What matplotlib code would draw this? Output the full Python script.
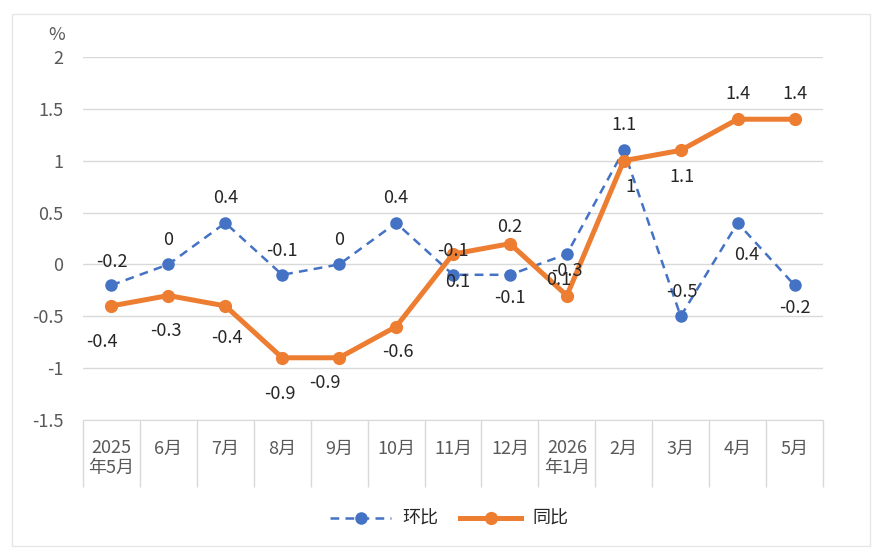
import numpy as np
import matplotlib
matplotlib.use("Agg")
import matplotlib.pyplot as plt
from matplotlib.patches import Rectangle
from matplotlib.lines import Line2D

plt.rcParams['font.family'] = ['Noto Sans CJK SC', 'DejaVu Sans']

# data
months = ['2025\n年5月', '6月', '7月', '8月', '9月', '10月', '11月', '12月',
          '2026\n年1月', '2月', '3月', '4月', '5月']
huanbi = [-0.2, 0, 0.4, -0.1, 0, 0.4, -0.1, -0.1, 0.1, 1.1, -0.5, 0.4, -0.2]
tongbi = [-0.4, -0.3, -0.4, -0.9, -0.9, -0.6, 0.1, 0.2, -0.3, 1, 1.1, 1.4, 1.4]
yticks = [-1.5, -1, -0.5, 0, 0.5, 1, 1.5, 2]

# label offsets in pixels (dx, dy up)
hb_off = [(0, 23), (0, 24), (0, 25), (0, 24), (0, 24), (0, 25), (0, 24),
          (0, -23), (-8, -26), (0, 25), (1, 24), (9, -32), (0, -23)]
tb_off = [(-10, -36), (-3, -35), (2, -32), (-2, -36), (-14, -25), (2, -25),
          (5, -28), (0, 17), (0, 25), (7, -26), (1, -27), (0, 25), (0, 25)]

blue = '#4472C4'
orange = '#ED7D31'
grid_c = '#d9d9d9'
tick_c = '#595959'
lab_c = '#262626'
fs = 13

W, H = 877, 549
fig = plt.figure(figsize=(W / 100, H / 100), dpi=100)
ax = fig.add_axes([83 / W, 1 - 420 / H, 740 / W, 363 / H])

x = np.arange(len(months))
ax.plot(x, huanbi, color=blue, lw=1.8, ls=(0, (3.5, 2.5)), marker='o',
        ms=8, mfc=blue, mec=blue, zorder=3, label='环比')
ax.plot(x, tongbi, color=orange, lw=3.6, marker='o', ms=8.5,
        mfc=orange, mec=orange, zorder=4, label='同比', solid_capstyle='round')

for xi, v, (dx, dy) in zip(x, huanbi, hb_off):
    ax.annotate(f'{v:g}', (xi, v), xytext=(dx, dy), textcoords='offset pixels',
                ha='center', va='center', fontsize=fs, color=lab_c, zorder=6)
for xi, v, (dx, dy) in zip(x, tongbi, tb_off):
    ax.annotate(f'{v:g}', (xi, v), xytext=(dx, dy), textcoords='offset pixels',
                ha='center', va='center', fontsize=fs, color=lab_c, zorder=6)

ax.set_xlim(-0.5, len(months) - 0.5)
ax.set_ylim(-1.5, 2)
ax.set_yticks(yticks)
ax.set_yticklabels([f'{t:g}' for t in yticks])
ax.tick_params(axis='y', length=0, pad=14, labelsize=fs, labelcolor=tick_c)
ax.grid(axis='y', color=grid_c, lw=1)
ax.set_axisbelow(True)

# category boundaries as long ticks, labels on minor ticks
ax.set_xticks(np.arange(len(months) + 1) - 0.5)
ax.set_xticklabels([])
ax.set_xticks(x, minor=True)
ax.set_xticklabels(months, minor=True, linespacing=1.1)
ax.tick_params(axis='x', which='major', length=48, width=1, color=grid_c, direction='out')
ax.tick_params(axis='x', which='minor', length=0, pad=14, labelsize=fs, labelcolor=tick_c)

for s in ['left', 'right', 'top']:
    ax.spines[s].set_visible(False)
ax.spines['bottom'].set_color(grid_c)

fig.text(57 / W, 1 - 35 / H, '%', ha='center', va='center', fontsize=fs, color=tick_c)

handles = [Line2D([], [], color=blue, lw=1.8, ls=(0, (3.5, 2.5)), marker='o', ms=8),
           Line2D([], [], color=orange, lw=3.6, marker='o', ms=8.5)]
fig.legend(handles, ['环比', '同比'], loc='center', bbox_to_anchor=(449 / W, 1 - 519 / H),
           ncol=2, frameon=False, fontsize=fs, handlelength=3.4, columnspacing=1.2,
           handletextpad=0.6, labelcolor=lab_c)

fig.patches.append(Rectangle((12 / W, 1 - 546 / H), 858 / W, 532 / H, transform=fig.transFigure,
                             fill=False, ec='#e6e6e6', lw=1))

fig.savefig('out.png', dpi=100, facecolor='white')
